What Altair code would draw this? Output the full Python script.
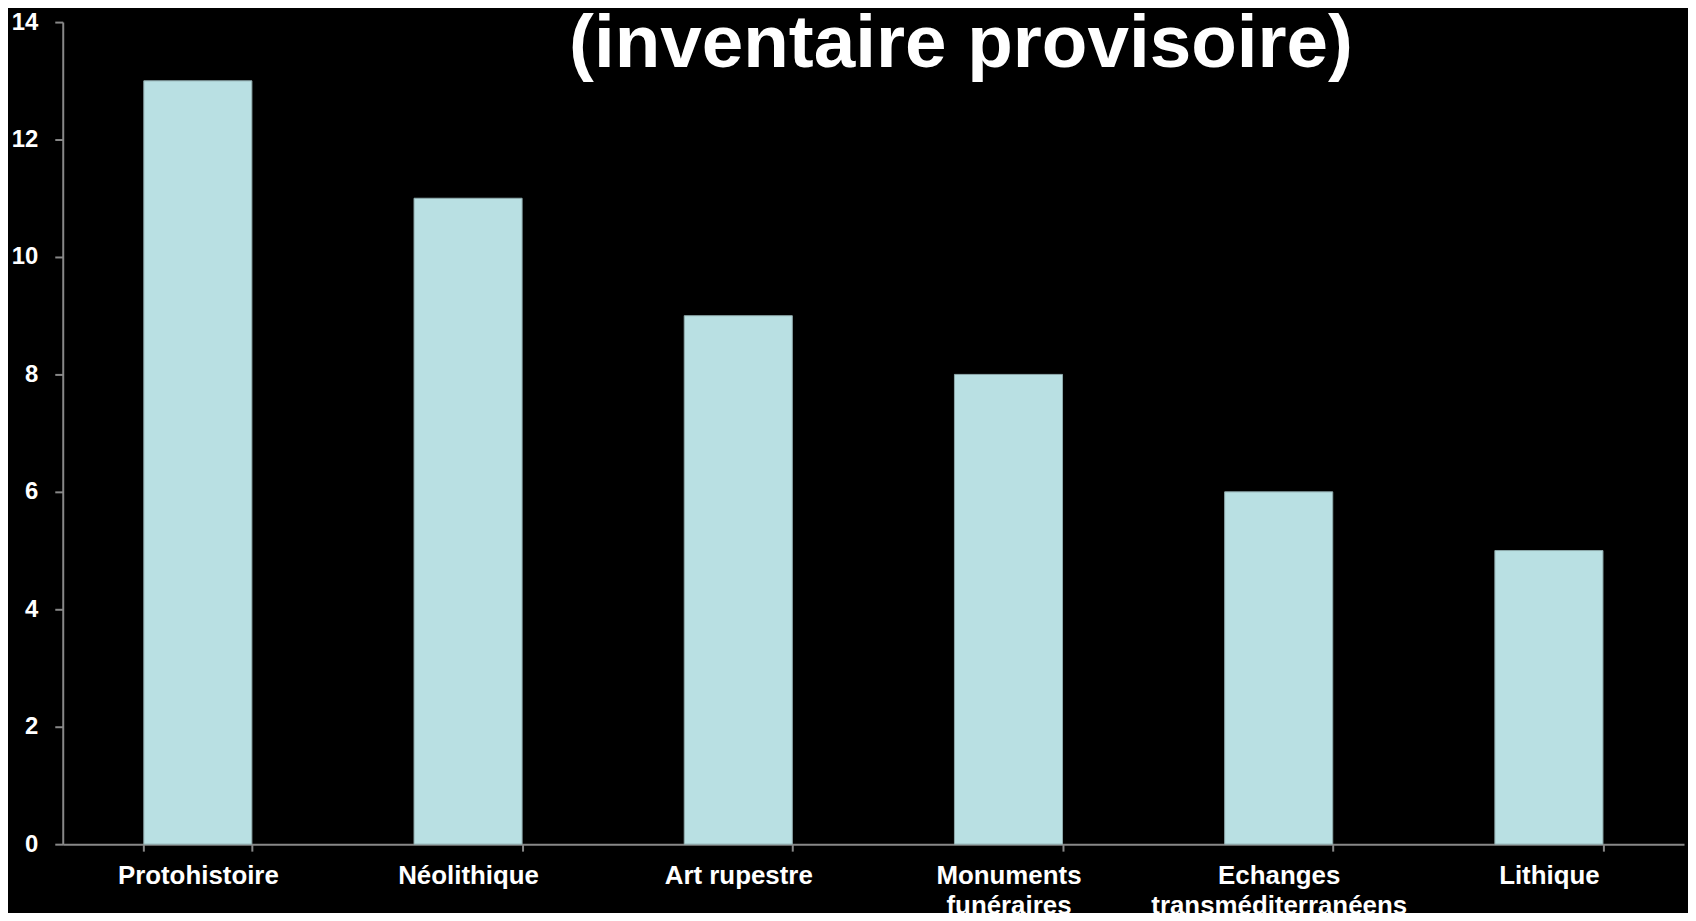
import altair as alt
import pandas as pd

categories = ["Protohistoire", "Néolithique", "Art rupestre",
              "Monuments\nfunéraires", "Echanges\ntransméditerranéens", "Lithique"]
values = [13, 11, 9, 8, 6, 5]
y_ticks = [0, 2, 4, 6, 8, 10, 12, 14]
title_text = "(inventaire provisoire)"

df = pd.DataFrame({"cat": categories, "val": values})

FONT = "Liberation Sans"
AXIS_COLOR = "#888888"

chart = alt.Chart(df).mark_bar(color="#B9E0E3", stroke="#8FAAAC", strokeWidth=1).encode(
    x=alt.X("cat:N", sort=categories, title=None,
            scale=alt.Scale(paddingInner=0.6, paddingOuter=0.3),
            axis=alt.Axis(labelAngle=0, labelFont=FONT, labelFontSize=26,
                          labelFontWeight="bold", labelColor="white",
                          labelExpr="split(datum.label, '\\n')",
                          labelLineHeight=30, labelPadding=12, labelLimit=0,
                          labelOverlap=False,
                          tickBand="extent", tickSize=7, tickColor=AXIS_COLOR,
                          tickWidth=2, domainColor=AXIS_COLOR, domainWidth=2,
                          labelBaseline="top")),
    y=alt.Y("val:Q", title=None,
            scale=alt.Scale(domain=[0, 14], nice=False),
            axis=alt.Axis(values=y_ticks, grid=False, labelFont=FONT,
                          labelFontSize=24, labelFontWeight="bold",
                          labelColor="white", labelPadding=17, tickSize=8,
                          tickColor=AXIS_COLOR, tickWidth=2,
                          domainColor=AXIS_COLOR, domainWidth=2)),
).properties(
    width=1629,
    height=826,
    background="black",
    padding={"left": 55, "top": 12, "right": 4, "bottom": 67},
    autosize=alt.AutoSizeParams(type="none"),
    title=alt.TitleParams(text=title_text, font=FONT, fontSize=75,
                          fontWeight="bold", color="white", anchor="middle",
                          frame="group", dx=88, offset=-132, baseline="alphabetic"),
).configure_view(stroke=None)

chart.save("out.html", embed_options={"renderer": "svg", "actions": False})
